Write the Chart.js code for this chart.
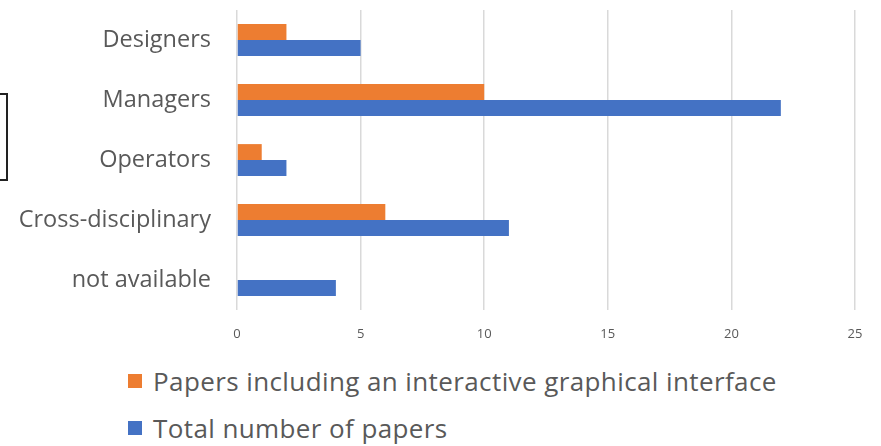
<!DOCTYPE html>
<html>
<head>
<meta charset="utf-8">
<script src="https://cdn.jsdelivr.net/npm/chart.js@4"></script>
<style>
  body { margin: 0; background: #fff; font-family: "Open Sans", sans-serif; }
  #wrap { position: relative; width: 881px; height: 446px; overflow: hidden; }
  #chartBox { position: absolute; left: 0; top: 0; width: 881px; height: 350px; }
  #sideBox { position: absolute; left: -10px; top: 93px; width: 14px; height: 84px; border: 2px solid #222; }
  #legend { position: absolute; left: 128px; top: 357px; color: #595959; font-size: 26px; letter-spacing: 0.4px; }
  .item { display: flex; align-items: center; height: 47px; }
  .swatch { width: 14px; height: 14px; margin-right: 11px; }
</style>
</head>
<body>
<div id="wrap">
  <div id="sideBox"></div>
  <div id="chartBox"><canvas id="roleChart"></canvas></div>
  <div id="legend"></div>
</div>
<script>
const categories = ['Designers', 'Managers', 'Operators', 'Cross-disciplinary', 'not available'];
const guiPapers = [2, 10, 1, 6, 0];
const totalPapers = [5, 22, 2, 11, 4];
const seriesNames = ['Papers including an interactive graphical interface', 'Total number of papers'];
const seriesColors = ['#ED7D31', '#4472C4'];

const roleCtx = document.getElementById('roleChart').getContext('2d');
const roleChart = new Chart(roleCtx, {
    type: 'bar',
    data: {
        labels: categories,
        datasets: [{
            label: seriesNames[0],
            data: guiPapers,
            backgroundColor: seriesColors[0]
        }, {
            label: seriesNames[1],
            data: totalPapers,
            backgroundColor: seriesColors[1]
        }]
    },
    options: {
        indexAxis: 'y',
        responsive: true,
        maintainAspectRatio: false,
        animation: false,
        categoryPercentage: 0.53,
        barPercentage: 1,
        layout: {
            padding: { top: 10, right: 26, bottom: 0, left: 0 }
        },
        plugins: {
            legend: { display: false },
            tooltip: { enabled: false }
        },
        scales: {
            x: {
                min: 0,
                max: 25,
                ticks: {
                    stepSize: 5,
                    padding: 16,
                    color: '#595959',
                    font: { family: 'Open Sans', size: 13 }
                },
                grid: {
                    color: '#d9d9d9',
                    lineWidth: 1.5,
                    drawTicks: false
                },
                border: { display: false },
                afterFit: function(scale) {
                    scale.height = 40;
                    scale.paddingLeft = 0;
                    scale.paddingRight = 0;
                }
            },
            y: {
                ticks: {
                    padding: 26,
                    color: '#595959',
                    font: { family: 'Open Sans', size: 23.5 }
                },
                grid: { display: false, drawTicks: false },
                border: { display: false },
                afterFit: function(scale) {
                    scale.width = 237;
                    scale.paddingTop = 0;
                    scale.paddingBottom = 0;
                }
            }
        }
    }
});

const legendEl = document.getElementById('legend');
seriesNames.forEach(function(name, i) {
    const item = document.createElement('div');
    item.className = 'item';
    item.innerHTML = '<span class="swatch" style="background:' + seriesColors[i] + '"></span>' + name;
    legendEl.appendChild(item);
});
</script>
</body>
</html>
